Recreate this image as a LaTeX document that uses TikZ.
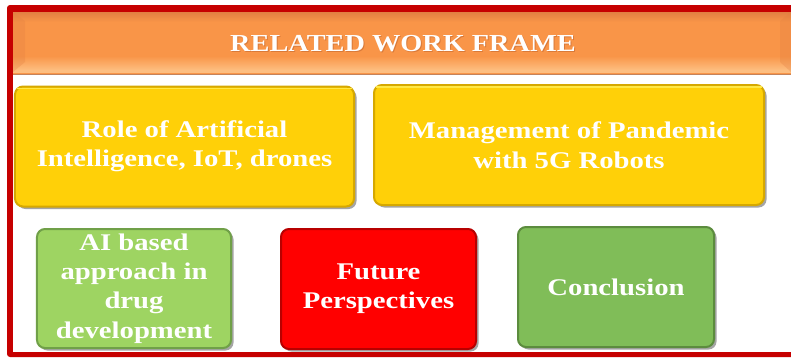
\documentclass[tikz,border=0pt]{standalone}
\usepackage{fontspec}
\setmainfont{Liberation Serif}[FakeStretch=1.2]
\newfontfamily\titlefont{Liberation Serif}[FakeStretch=1.16]
\usetikzlibrary{shadows}

\definecolor{framered}{RGB}{198,0,0}
\definecolor{hdrtop}{RGB}{226,128,66}
\definecolor{hdrmid}{RGB}{249,149,72}
\definecolor{hdrbot}{RGB}{253,190,128}
\definecolor{hdrline}{RGB}{196,132,92}
\definecolor{goldfill}{RGB}{255,208,8}
\definecolor{golddraw}{RGB}{214,168,0}
\definecolor{goldlight}{RGB}{255,232,70}
\definecolor{limefill}{RGB}{158,212,98}
\definecolor{limedraw}{RGB}{112,160,72}
\definecolor{redfill}{RGB}{255,0,0}
\definecolor{reddraw}{RGB}{184,0,0}
\definecolor{leaffill}{RGB}{128,189,88}
\definecolor{leafdraw}{RGB}{92,140,62}
\definecolor{titleshade}{RGB}{196,104,48}

\begin{document}
\begin{tikzpicture}[x=1bp,y=-1bp,
  topic/.style={rounded corners=8bp, line width=2bp, text=white,
    font=\fontsize{24}{29.5}\selectfont\bfseries, align=center, inner sep=0pt,
    drop shadow={shadow xshift=2.5bp, shadow yshift=-2.5bp, opacity=0.5, fill=black!70}},
  gold/.style={topic, fill=goldfill, draw=golddraw},
  lime/.style={topic, fill=limefill, draw=limedraw},
  alert/.style={topic, fill=redfill, draw=reddraw},
  leaf/.style={topic, fill=leaffill, draw=leafdraw},
  titletext/.style={font=\titlefont\fontsize{24.5}{28}\selectfont\bfseries, inner sep=0pt}
]
\useasboundingbox (0,0) rectangle (791,358);
\fill[white] (0,0) rectangle (791,358);

% outer red frame and white panel
\fill[framered, rounded corners=3bp] (7,5) rectangle (800,357);
\fill[white] (13,12) rectangle (800,352);

% header band: flat orange with a darker top edge and a lighter lower edge
\fill[hdrmid] (13,12) rectangle (791,74);
\shade[top color=hdrtop, bottom color=hdrmid] (13,12) rectangle (791,22);
\shade[top color=hdrmid, bottom color=hdrbot] (13,56) rectangle (791,70);
\fill[hdrbot] (13,70) rectangle (791,73);
\fill[hdrtop, opacity=0.3] (13,12) -- (25,21) -- (25,62) -- (13,72) -- cycle;
\fill[hdrtop, opacity=0.3] (791,12) -- (780,21) -- (780,62) -- (791,72) -- cycle;
\draw[hdrline, line width=1.5bp] (13,74.5) -- (791,74.5);

\node[titletext, text=titleshade, opacity=0.6] (titleshadow) at (404,45) {RELATED WORK FRAME};
\node[titletext, text=white] (title) at (403,44) {RELATED WORK FRAME};

% topic boxes
\node[gold, minimum width=339bp, minimum height=120bp] (role) at (184.5,146.5)
  {Role of Artificial\\Intelligence, IoT, drones};
\node[gold, minimum width=390bp, minimum height=120bp] (mgmt) at (569,145)
  {Management of Pandemic\\with 5G Robots};
\node[lime, minimum width=194bp, minimum height=119bp] (drug) at (134,288.5)
  {AI based\\approach in\\drug\\development};
\node[alert, minimum width=195bp, minimum height=120bp] (future) at (378.5,289)
  {Future\\Perspectives};
\node[leaf, minimum width=196bp, minimum height=120bp] (concl) at (616,287)
  {Conclusion};

% light rim along the top of the gold boxes
\draw[goldlight, line width=1.2bp, rounded corners=6bp]
  ([xshift=-3bp,yshift=-3bp]role.north east) -- ([xshift=3bp,yshift=-3bp]role.north west);
\draw[goldlight, line width=1.2bp, rounded corners=6bp]
  ([xshift=-3bp,yshift=-3bp]mgmt.north east) -- ([xshift=3bp,yshift=-3bp]mgmt.north west);
\end{tikzpicture}
\end{document}
